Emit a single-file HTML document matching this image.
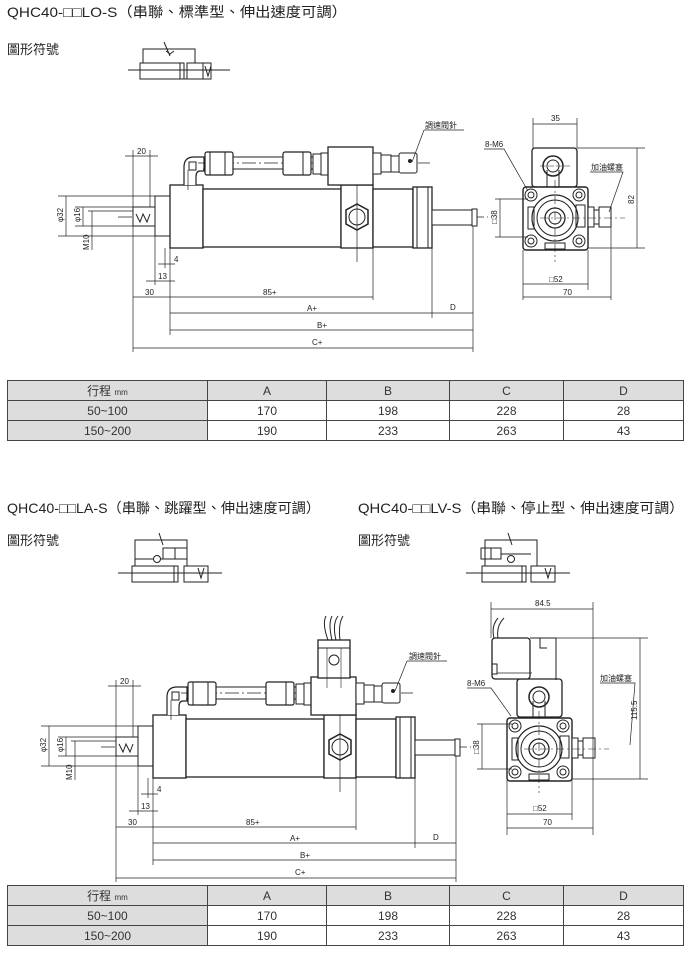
<!DOCTYPE html>
<html><head><meta charset="utf-8">
<style>
html,body{margin:0;padding:0;background:#fff;}
body{width:690px;height:954px;overflow:hidden;position:relative;font-family:"Liberation Sans","Noto Sans CJK TC",sans-serif;}
svg{position:absolute;left:0;top:0;}
table{position:absolute;border-collapse:collapse;font-size:12px;color:#333;}
td{border:1px solid #444;text-align:center;padding:0;height:19px;}
td.g{background:#ddd;}
tr.h td{background:#ddd;}
</style></head><body>
<svg width="690" height="954" viewBox="0 0 690 954" font-family="Liberation Sans, Noto Sans CJK TC, sans-serif">
<defs>
<g id="cyl" fill="none" stroke="#222" stroke-width="1">
  <line x1="118" y1="217" x2="488" y2="217" stroke-dasharray="14,3,2,3" stroke-width="0.7"/>
  <rect x="133" y="207" width="23" height="19" fill="#fff"/>
  <path d="M136 214 l4 8 l3 -8 l4 8 l3 -8" />
  <rect x="155" y="196" width="15" height="40" fill="#fff"/>
  <rect x="170" y="185" width="33" height="63" fill="#fff" stroke-width="1.3"/>
  <rect x="203" y="189" width="138" height="58" fill="#fff" stroke-width="1.3"/>
  <rect x="341" y="185" width="32" height="63" fill="#fff" stroke-width="1.3"/>
  <rect x="373" y="189" width="40" height="58" fill="#fff" stroke-width="1.3"/>
  <rect x="413" y="187" width="19" height="61" fill="#fff" stroke-width="1.3"/>
  <line x1="417" y1="187" x2="417" y2="248"/><line x1="428" y1="187" x2="428" y2="248"/>
  <rect x="432" y="210" width="40" height="15" fill="#fff"/>
  <rect x="472" y="209" width="5" height="17" fill="#fff"/>
  <polygon points="357,204 368,210 368,224 357,230 346,224 346,210" fill="#fff" stroke-width="1.5"/>
  <circle cx="357" cy="217" r="8"/>
  <line x1="357" y1="175" x2="357" y2="262" stroke-width="0.7"/>
  <path d="M184 185 v-18 q0 -10 10 -10 h10 v14 h-4 q-4 0 -4 6 v8" fill="#fff" stroke-width="1.2"/>
  <rect x="189" y="162" width="7" height="8"/>
  <line x1="188" y1="170" x2="188" y2="190" stroke-width="0.7"/>
  <line x1="203" y1="157" x2="330" y2="157"/><line x1="203" y1="169" x2="330" y2="169"/>
  <line x1="198" y1="163" x2="430" y2="163" stroke-dasharray="14,3,2,3" stroke-width="0.7"/>
  <rect x="205" y="152" width="28" height="23" rx="2" fill="#fff" stroke-width="1.2"/>
  <line x1="210" y1="152" x2="210" y2="175"/><line x1="225" y1="152" x2="225" y2="175"/>
  <rect x="283" y="152" width="28" height="23" rx="2" fill="#fff" stroke-width="1.2"/>
  <line x1="303" y1="152" x2="303" y2="175"/>
  <rect x="313" y="154" width="8" height="20" fill="#fff"/>
  <rect x="321" y="153" width="7" height="22" fill="#fff"/>
  <rect x="328" y="147" width="45" height="38" fill="#fff" stroke-width="1.3"/>
  <rect x="373" y="153" width="8" height="21" fill="#fff"/>
  <rect x="381" y="155" width="10" height="17" fill="#fff"/>
  <rect x="391" y="156" width="8" height="16" fill="#fff"/>
  <rect x="399" y="153" width="18" height="20" rx="2" fill="#fff"/>
  <circle cx="410" cy="161" r="1.5" fill="#222"/>
  <g stroke-width="0.7">
  <line x1="133" y1="150" x2="133" y2="352"/>
  <line x1="150" y1="150" x2="150" y2="207"/>
  <line x1="170" y1="248" x2="170" y2="335"/>
  <line x1="155" y1="236" x2="155" y2="285"/>
  <line x1="165" y1="248" x2="165" y2="268"/>
  <line x1="373" y1="248" x2="373" y2="300"/>
  <line x1="432" y1="248" x2="432" y2="318"/>
  <line x1="473" y1="226" x2="473" y2="352"/>
  <line x1="58" y1="196" x2="155" y2="196"/><line x1="58" y1="236" x2="155" y2="236"/>
  <line x1="75" y1="207" x2="133" y2="207"/><line x1="75" y1="226" x2="133" y2="226"/>
  <line x1="88" y1="211" x2="133" y2="211"/>
  <line x1="66" y1="196" x2="66" y2="236"/>
  <line x1="83" y1="207" x2="83" y2="226"/>
  <line x1="92" y1="211" x2="92" y2="250"/>
  <line x1="125" y1="156" x2="158" y2="156"/>
  <line x1="158" y1="264" x2="175" y2="264"/>
  <line x1="146" y1="281" x2="175" y2="281"/>
  <line x1="133" y1="297" x2="373" y2="297"/>
  <line x1="170" y1="313" x2="473" y2="313"/>
  <line x1="170" y1="330" x2="473" y2="330"/>
  <line x1="133" y1="348" x2="473" y2="348"/>
  </g>
</g>
<g id="endv" fill="none" stroke="#222">
  <rect x="523" y="187" width="65" height="63" rx="3" fill="#fff" stroke-width="1.4"/>
  <circle cx="531" cy="195" r="6"/><circle cx="531" cy="195" r="3"/>
  <circle cx="579" cy="195" r="6"/><circle cx="579" cy="195" r="3"/>
  <circle cx="531" cy="241" r="6"/><circle cx="531" cy="241" r="3"/>
  <circle cx="579" cy="241" r="6"/><circle cx="579" cy="241" r="3"/>
  <circle cx="555" cy="218" r="23" stroke-width="1.2"/>
  <circle cx="555" cy="218" r="18"/>
  <circle cx="555" cy="218" r="10" stroke-width="1.3"/>
  <circle cx="555" cy="218" r="6"/>
  <rect x="528" y="207" width="6" height="22"/>
  <rect x="576" y="205" width="9" height="22"/>
  <rect x="545" y="243" width="20" height="6"/>
  <rect x="588" y="207" width="6" height="20" fill="#fff"/>
  <rect x="594" y="210" width="5" height="14" fill="#fff"/>
  <rect x="599" y="207" width="12" height="20" fill="#fff"/>
  <line x1="540" y1="218" x2="625" y2="218" stroke-width="0.6" stroke-dasharray="8,3,2,3"/>
  <line x1="555" y1="180" x2="555" y2="262" stroke-width="0.6" stroke-dasharray="8,3,2,3"/>
</g>
</defs>

<text x="7" y="17" font-size="14" fill="#222" textLength="340" lengthAdjust="spacingAndGlyphs">QHC40-□□LO-S（串聯、標準型、伸出速度可調）</text>
<text x="7" y="54" font-size="13" fill="#222">圖形符號</text>
<text x="7" y="513" font-size="14" fill="#222" textLength="313" lengthAdjust="spacingAndGlyphs">QHC40-□□LA-S（串聯、跳躍型、伸出速度可調）</text>
<text x="358" y="513" font-size="14" fill="#222" textLength="326" lengthAdjust="spacingAndGlyphs">QHC40-□□LV-S（串聯、停止型、伸出速度可調）</text>
<text x="7" y="545" font-size="13" fill="#222">圖形符號</text>
<text x="358" y="545" font-size="13" fill="#222">圖形符號</text>

<g fill="none" stroke="#222" stroke-width="1">
  <line x1="128" y1="70" x2="230" y2="70"/>
  <rect x="140" y="63" width="44" height="16"/><line x1="180" y1="63" x2="180" y2="79"/>
  <rect x="187" y="63" width="24" height="16"/><line x1="203" y1="63" x2="203" y2="79"/>
  <path d="M184 79 h3 v-3"/><path d="M143 63 v-14 h52 v14"/>
  <path d="M164 42 l6 14 M161 49 h12 M166 51 l4 3 l4 -3"/>
  <path d="M205 66 l3 10 l3 -10"/>
</g>
<g fill="none" stroke="#222" stroke-width="1">
  <line x1="118" y1="573" x2="222" y2="573"/>
  <rect x="132" y="566" width="46" height="16"/><line x1="174" y1="566" x2="174" y2="582"/>
  <rect x="184" y="566" width="24" height="16"/>
  <path d="M135 566 v-26 h52 v26"/>
  <rect x="163" y="548" width="24" height="11"/><line x1="175" y1="548" x2="175" y2="559"/>
  <circle cx="157" cy="559" r="3.5"/><path d="M135 559 h18 M161 559 h6"/>
  <path d="M159 533 l4 12 M155 540 h12"/>
  <path d="M198 568 l3 10 l3 -10"/>
</g>
<g fill="none" stroke="#222" stroke-width="1">
  <line x1="466" y1="573" x2="570" y2="573"/>
  <rect x="482" y="566" width="44" height="16"/><line x1="522" y1="566" x2="522" y2="582"/>
  <rect x="531" y="566" width="24" height="16"/>
  <path d="M485 566 v-26 h52 v26"/>
  <rect x="481" y="548" width="20" height="11"/><line x1="491" y1="548" x2="491" y2="559"/>
  <circle cx="511" cy="559" r="3.5"/><path d="M501 554 h30"/>
  <path d="M508 533 l4 12 M504 540 h12"/>
  <path d="M545 568 l3 10 l3 -10"/>
</g>

<use href="#cyl"/>
<g font-size="8" fill="#222">
  <text x="137" y="154">20</text>
  <text x="63" y="222" transform="rotate(-90 63 222)">φ32</text>
  <text x="80" y="222" transform="rotate(-90 80 222)">φ16</text>
  <text x="89" y="250" transform="rotate(-90 89 250)">M10</text>
  <text x="174" y="262">4</text>
  <text x="158" y="279">13</text>
  <text x="145" y="295">30</text>
  <text x="263" y="295">85+</text>
  <text x="307" y="311">A+</text>
  <text x="450" y="310">D</text>
  <text x="317" y="328">B+</text>
  <text x="312" y="345">C+</text>
  <text x="425" y="128" font-size="8">調速閥針</text>
</g>
<path d="M424 130 h40 M424 130 l-12 32" stroke="#222" fill="none" stroke-width="0.7"/>

<g fill="none" stroke="#222">
  <rect x="532" y="148" width="45" height="39" rx="3" fill="#fff" stroke-width="1.3"/>
  <circle cx="553" cy="166" r="10" stroke-width="1.5"/><circle cx="553" cy="166" r="6"/>
  <path d="M547 170 v17 M559 170 v17"/>
  <line x1="540" y1="166" x2="570" y2="166" stroke-width="0.6" stroke-dasharray="6,2"/>
</g>
<use href="#endv"/>
<g stroke="#222" stroke-width="0.7" fill="none">
  <line x1="533" y1="118" x2="533" y2="148"/><line x1="577" y1="118" x2="577" y2="148"/>
  <line x1="533" y1="124" x2="577" y2="124"/>
  <line x1="577" y1="148" x2="645" y2="148"/><line x1="588" y1="248" x2="645" y2="248"/>
  <line x1="637" y1="148" x2="637" y2="248"/>
  <line x1="495" y1="199" x2="528" y2="199"/><line x1="495" y1="237" x2="528" y2="237"/>
  <line x1="500" y1="199" x2="500" y2="237"/>
  <line x1="523" y1="250" x2="523" y2="300"/><line x1="588" y1="250" x2="588" y2="290"/><line x1="611" y1="227" x2="611" y2="300"/>
  <line x1="523" y1="284" x2="588" y2="284"/><line x1="523" y1="297" x2="611" y2="297"/>
  <path d="M484 149 h20 l24 42"/>
  <path d="M590 172 h33 l-14 40"/>
</g>
<g font-size="8" fill="#222">
  <text x="551" y="121">35</text>
  <text x="485" y="147">8-M6</text>
  <text x="591" y="170">加油螺塞</text>
  <text x="634" y="204" transform="rotate(-90 634 204)">82</text>
  <text x="497" y="224" transform="rotate(-90 497 224)">□38</text>
  <text x="549" y="282">□52</text>
  <text x="563" y="295">70</text>
</g>

<g transform="translate(-17,530)">
  <use href="#cyl"/>
  <g fill="none" stroke="#222">
    <rect x="335" y="110" width="32" height="38" fill="#fff" stroke-width="1.3"/>
    <line x1="335" y1="118" x2="367" y2="118"/>
    <circle cx="351" cy="130" r="5"/>
    <line x1="344" y1="118" x2="344" y2="158" stroke-width="0.6"/><line x1="358" y1="118" x2="358" y2="158" stroke-width="0.6"/>
    <path d="M345 110 q-6 -16 -2 -24 M349 110 q-4 -16 0 -24 M353 110 q-4 -16 2 -24 M357 110 q-2 -16 3 -24"/>
  </g>
  <g font-size="8" fill="#222">
    <text x="137" y="154">20</text>
    <text x="63" y="222" transform="rotate(-90 63 222)">φ32</text>
    <text x="80" y="222" transform="rotate(-90 80 222)">φ16</text>
    <text x="89" y="250" transform="rotate(-90 89 250)">M10</text>
    <text x="174" y="262">4</text>
    <text x="158" y="279">13</text>
    <text x="145" y="295">30</text>
    <text x="263" y="295">85+</text>
    <text x="307" y="311">A+</text>
    <text x="450" y="310">D</text>
    <text x="317" y="328">B+</text>
    <text x="312" y="345">C+</text>
    <text x="426" y="129">調速閥針</text>
  </g>
  <path d="M424 131 h40 M424 131 l-12 30" stroke="#222" fill="none" stroke-width="0.7"/>
</g>

<g fill="none" stroke="#222">
  <rect x="517" y="679" width="45" height="38" rx="3" fill="#fff" stroke-width="1.3"/>
  <circle cx="539" cy="697" r="10" stroke-width="1.5"/><circle cx="539" cy="697" r="6"/>
  <path d="M533 701 v16 M545 701 v16"/>
  <rect x="492" y="638" width="38" height="41" rx="3" fill="#fff" stroke-width="1.3"/>
  <path d="M530 638 h26 v42 M540 638 v10 h7"/>
  <rect x="492" y="664" width="5" height="10"/>
  <line x1="497" y1="673" x2="532" y2="673" stroke-width="0.7"/>
  <path d="M494 638 q-3 -12 4 -20 M498 638 q-2 -12 6 -20"/>
</g>
<g transform="translate(-16,531)"><use href="#endv"/></g>
<g stroke="#222" stroke-width="0.7" fill="none">
  <line x1="491" y1="602" x2="491" y2="638"/><line x1="593" y1="602" x2="593" y2="835"/>
  <line x1="491" y1="609" x2="593" y2="609"/>
  <line x1="556" y1="638" x2="648" y2="638"/><line x1="572" y1="779" x2="648" y2="779"/>
  <line x1="640" y1="638" x2="640" y2="779"/>
  <line x1="477" y1="724" x2="512" y2="724"/><line x1="477" y1="769" x2="512" y2="769"/>
  <line x1="482" y1="724" x2="482" y2="769"/>
  <line x1="507" y1="780" x2="507" y2="835"/><line x1="572" y1="780" x2="572" y2="820"/>
  <line x1="507" y1="814" x2="572" y2="814"/><line x1="507" y1="828" x2="593" y2="828"/>
  <path d="M467 688 h24 l20 28"/>
  <path d="M600 683 h35 l-5 62"/>
</g>
<g font-size="8" fill="#222">
  <text x="535" y="606">84.5</text>
  <text x="467" y="686">8-M6</text>
  <text x="600" y="681">加油螺塞</text>
  <text x="637" y="720" transform="rotate(-90 637 720)">115.5</text>
  <text x="479" y="754" transform="rotate(-90 479 754)">□38</text>
  <text x="533" y="811">□52</text>
  <text x="543" y="825">70</text>
</g>
</svg>

<table style="left:7px;top:380px;width:677px;">
<tr class="h"><td style="width:199px">行程 <span style="font-size:8px">mm</span></td><td style="width:118px">A</td><td style="width:122px">B</td><td style="width:113px">C</td><td>D</td></tr>
<tr><td class="g">50~100</td><td>170</td><td>198</td><td>228</td><td>28</td></tr>
<tr><td class="g">150~200</td><td>190</td><td>233</td><td>263</td><td>43</td></tr>
</table>
<table style="left:7px;top:885px;width:677px;">
<tr class="h"><td style="width:199px">行程 <span style="font-size:8px">mm</span></td><td style="width:118px">A</td><td style="width:122px">B</td><td style="width:113px">C</td><td>D</td></tr>
<tr><td class="g">50~100</td><td>170</td><td>198</td><td>228</td><td>28</td></tr>
<tr><td class="g">150~200</td><td>190</td><td>233</td><td>263</td><td>43</td></tr>
</table>
</body></html>
